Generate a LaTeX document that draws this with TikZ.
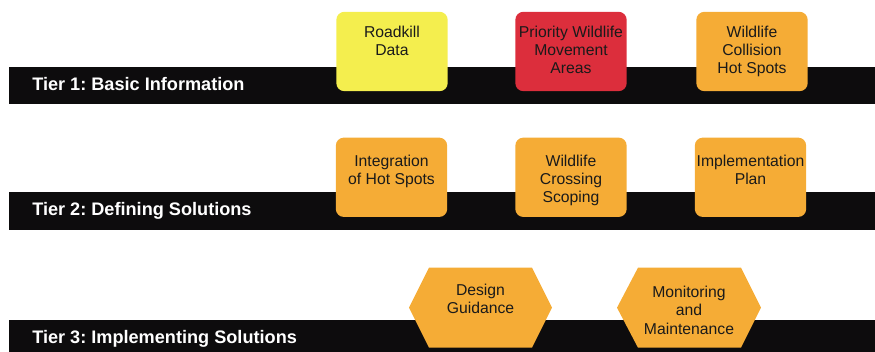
\documentclass[tikz,border=0pt]{standalone}
\usepackage{fontspec}
\setmainfont{Liberation Sans}
\frenchspacing

\definecolor{barblack}{HTML}{0D0C0D}
\definecolor{rkyellow}{HTML}{F4EE4E}
\definecolor{prred}{HTML}{DC2E3C}
\definecolor{tierorange}{HTML}{F5AC36}
\definecolor{boxink}{HTML}{1A1A1A}

\tikzset{
  tierbar/.style={fill=barblack, draw=none},
  tierlabel/.style={anchor=base west, inner sep=0pt, text=white,
    font=\fontsize{13.6}{16}\selectfont\bfseries},
  infobox/.style={draw=none, rounded corners=6pt, inner sep=0pt,
    minimum width=83.5pt, minimum height=59.5pt},
  boxtext/.style={anchor=north, align=center, inner sep=0pt, text=boxink,
    font=\fontsize{11.8}{13.7}\selectfont},
  hexpatch/.style={fill=tierorange, draw=none},
}

\begin{document}
\begin{tikzpicture}[x=0.75pt,y=0.75pt,yscale=-1,xscale=1]
\useasboundingbox (0,0) rectangle (875,352);

%Shape: Tier bars
\fill[tierbar] (9,66.7) rectangle (875,104);
\fill[tierbar] (9,191.7) rectangle (875,230);
\fill[tierbar] (9,320) rectangle (875,352);

% Text Node
\node[tierlabel] (tier1) at (32,90.7) {Tier 1: Basic Information};
% Text Node
\node[tierlabel] (tier2) at (32,215.7) {Tier 2: Defining Solutions};
% Text Node
\node[tierlabel] (tier3) at (32,344) {Tier 3: Implementing Solutions};

%Shape: Tier 1 boxes
\node[infobox, fill=rkyellow] (roadkill) at (392,51.5) {};
\node[infobox, fill=prred] (priority) at (571,51.5) {};
\node[infobox, fill=tierorange] (collision) at (752,51.5) {};
% Text Node
\node[boxtext] (roadkill-txt) at (392,25.5) {Roadkill\\Data};
\node[boxtext] (priority-txt) at (571,25.5) {Priority Wildlife\\Movement\\Areas};
\node[boxtext] (collision-txt) at (752,25.5) {Wildlife\\Collision\\Hot Spots};

%Shape: Tier 2 boxes
\node[infobox, fill=tierorange] (integration) at (391.5,177.3) {};
\node[infobox, fill=tierorange] (scoping) at (571,177.3) {};
\node[infobox, fill=tierorange] (implementation) at (750.5,177.3) {};
% Text Node
\node[boxtext] (integration-txt) at (391.5,154.5) {Integration\\of Hot Spots};
\node[boxtext] (scoping-txt) at (571,154.5) {Wildlife\\Crossing\\Scoping};
\node[boxtext] (implementation-txt) at (750.5,154.5) {Implementation\\Plan};

%Shape: Tier 3 hexagons
\draw[hexpatch] (409,307.7) -- (429,267.7) -- (532,267.7) -- (552,307.7) -- (532,347.7) -- (429,347.7) -- cycle;
\draw[hexpatch] (617,307.7) -- (638,267.7) -- (741,267.7) -- (761,307.7) -- (741,347.7) -- (638,347.7) -- cycle;
% Text Node
\node[boxtext] (design-txt) at (480.5,283.5) {Design\\Guidance};
\node[boxtext] (monitoring-txt) at (689,286) {Monitoring\\and\\Maintenance};

\end{tikzpicture}
\end{document}
